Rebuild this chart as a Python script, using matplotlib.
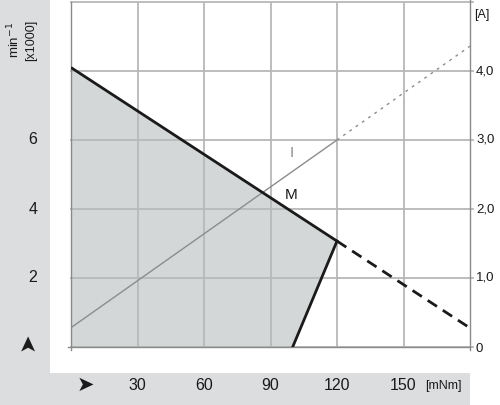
import matplotlib
matplotlib.use("Agg")
import matplotlib.pyplot as plt
from matplotlib.patches import Rectangle, Polygon

plt.rcParams['font.family'] = ['Liberation Sans', 'DejaVu Sans']

# Data
torque_ticks = [30, 60, 90, 120, 150]
speed_ticks = [2, 4, 6]
current_ticks = [0, 1.0, 2.0, 3.0, 4.0]
current_labels = ["0", "1,0", "2,0", "3,0", "4,0"]

torque_M = [0, 120]
speed_M = [8.1, 3.07]
torque_M_ext = [120, 180]
speed_M_ext = [3.07, 0.55]
torque_lim = [120, 100]
speed_lim = [3.07, 0]
torque_I = [0, 120]
current_I = [0.28, 3.0]
torque_I_ext = [120, 180]
current_I_ext = [3.0, 4.36]

W, H = 500, 405
fig = plt.figure(figsize=(W / 100, H / 100), dpi=100)
fig.patch.set_facecolor("white")

panel = "#dcdddf"
fig.patches.append(Rectangle((0, (H - 373) / H), 50 / W, 373 / H, transform=fig.transFigure,
                             facecolor=panel, edgecolor="none", zorder=0))
fig.patches.append(Rectangle((0, 0), 470 / W, (H - 373) / H, transform=fig.transFigure,
                             facecolor=panel, edgecolor="none", zorder=0))

x0, x1 = 71, 470
ytop, ybot = 2, 347
ax = fig.add_axes([x0 / W, (H - ybot) / H, (x1 - x0) / W, (ybot - ytop) / H])
ax.set_facecolor("none")
ax.set_xlim(0, 180)
ax.set_ylim(0, 10)
for s in ax.spines.values():
    s.set_visible(False)
ax.set_xticks([])
ax.set_yticks([])

grid_c = "#b8b8b8"
for x in [30, 60, 90, 120, 150]:
    ax.plot([x, x], [0, 10], color=grid_c, lw=1.3, zorder=1)
for y in [2, 4, 6, 8, 10]:
    ax.plot([0, 181.5], [y, y], color=grid_c, lw=1.3, zorder=1, clip_on=False)
ax.plot([0, 181.5], [0, 0], color=grid_c, lw=1.3, zorder=1, clip_on=False)
ax.plot([0, 0], [-0.1, 10], color="#8a8a8a", lw=1.0, zorder=2, clip_on=False)
ax.plot([180, 180], [-0.1, 10.06], color="#8a8a8a", lw=1.0, zorder=2, clip_on=False)
ax.plot([-1.2, 180], [0, 0], color="#8a8a8a", lw=1.0, zorder=2, clip_on=False)

poly = Polygon(list(zip([0] + torque_M + [torque_lim[1], 0], [0] + speed_M + [speed_lim[1], 0])),
               closed=True, facecolor="#d4d7d7", edgecolor="none", zorder=0.5)
ax.add_patch(poly)

ax.plot(torque_I, [c * 2 for c in current_I], color="#8c8c8c", lw=1.0, zorder=3)
ax.plot(torque_I_ext, [c * 2 for c in current_I_ext], color="#8c8c8c", lw=1.0,
        dashes=(2, 3.5), zorder=3)

ax.plot(torque_M, speed_M, color="#1a1a1a", lw=2.0, zorder=4, solid_capstyle="butt")
ax.plot(torque_M_ext, speed_M_ext, color="#1a1a1a", lw=2.0, dashes=(4, 2.5), zorder=4)
ax.plot(torque_lim, speed_lim, color="#1a1a1a", lw=2.0, zorder=4)

ax.text(99.5, 4.4, "M", fontsize=11, color="#1a1a1a", ha="center", va="center")
ax.text(99.5, 5.62, "I", fontsize=11, color="#8c8c8c", ha="center", va="center")

tx = lambda px: px / W
ty = lambda py: 1 - py / H

for v in speed_ticks:
    py = ybot - v * 34.5
    fig.text(tx(33), ty(py), str(v), fontsize=11.5, ha="center", va="center", color="#1a1a1a")
fig.text(tx(14), ty(40), r"min$^{-1}$", fontsize=9.5, rotation=90, ha="center", va="center", color="#1a1a1a")
fig.text(tx(31), ty(40), "[x1000]", fontsize=9, rotation=90, ha="center", va="center", color="#1a1a1a")
fig.text(tx(27), ty(342), "➤", fontsize=16, rotation=90, ha="center", va="center", color="#1a1a1a",
         family="DejaVu Sans")

for v in torque_ticks:
    px = x0 + v * (x1 - x0) / 180
    fig.text(tx(px), ty(386), str(v), fontsize=11.5, ha="center", va="center", color="#1a1a1a")
fig.text(tx(425), ty(386), "[mNm]", fontsize=9, ha="left", va="center", color="#1a1a1a")
fig.text(tx(85), ty(385), "➤", fontsize=15, ha="center", va="center", color="#1a1a1a",
         family="DejaVu Sans")

for v, lab in zip(current_ticks, current_labels):
    py = ybot - v * 69
    if v == 0:
        py = 349
    fig.text(tx(476), ty(py), lab, fontsize=9.5, ha="left", va="center", color="#1a1a1a")
fig.text(tx(474), ty(15), "[A]", fontsize=9, ha="left", va="center", color="#1a1a1a")

fig.savefig("out.png", dpi=100)
